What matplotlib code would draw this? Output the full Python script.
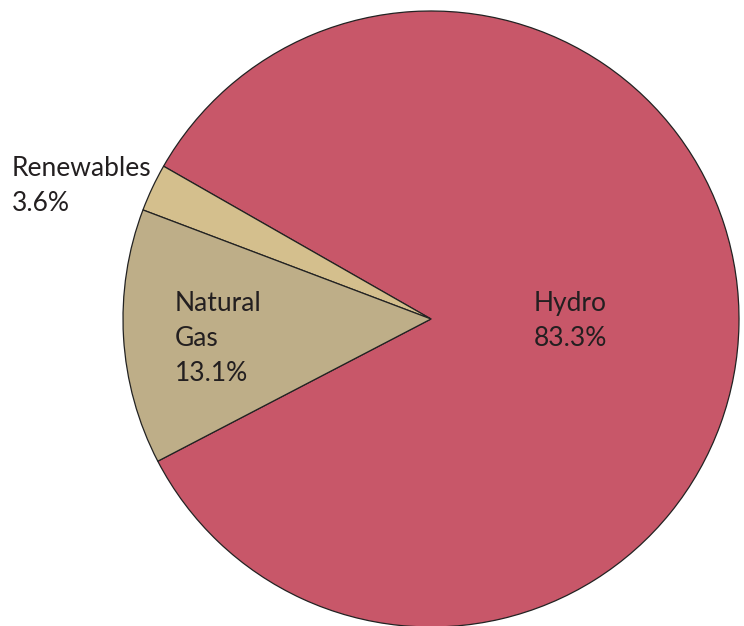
import matplotlib.pyplot as plt

# Electricity generation by source
sources = ['Hydro', 'Renewables', 'Natural\nGas']
shares = [83.3, 3.6, 13.1]            # percentages printed on the chart
wedge_sizes = [84.1, 2.5, 13.4]       # wedge sizes as drawn in the chart
colors = ['#C85769', '#D4BF8D', '#BEAE88']

plt.rcParams['font.family'] = ['Lato', 'DejaVu Sans']

fig = plt.figure(figsize=(7.44, 6.26), dpi=100)
ax = fig.add_axes([123 / 744, -1 / 626, 616 / 744, 616 / 626])

ax.pie(wedge_sizes, colors=colors, startangle=-152.5, counterclock=True,
       wedgeprops=dict(edgecolor='#222222', linewidth=0.9))
ax.set_xlim(-1, 1)
ax.set_ylim(-1, 1)

# label anchors (baseline of last line, relative to pie radius)
label_pos = [(0.334, -0.088), (-1.36, 0.351), (-0.831, -0.201)]
for name, share, (x, y) in zip(sources, shares, label_pos):
    ax.text(x, y, '{}\n{}%'.format(name, share), ha='left', va='baseline',
            fontsize=19, color='#231F20', linespacing=1.51, clip_on=False)

fig.savefig('out.png', dpi=100)
